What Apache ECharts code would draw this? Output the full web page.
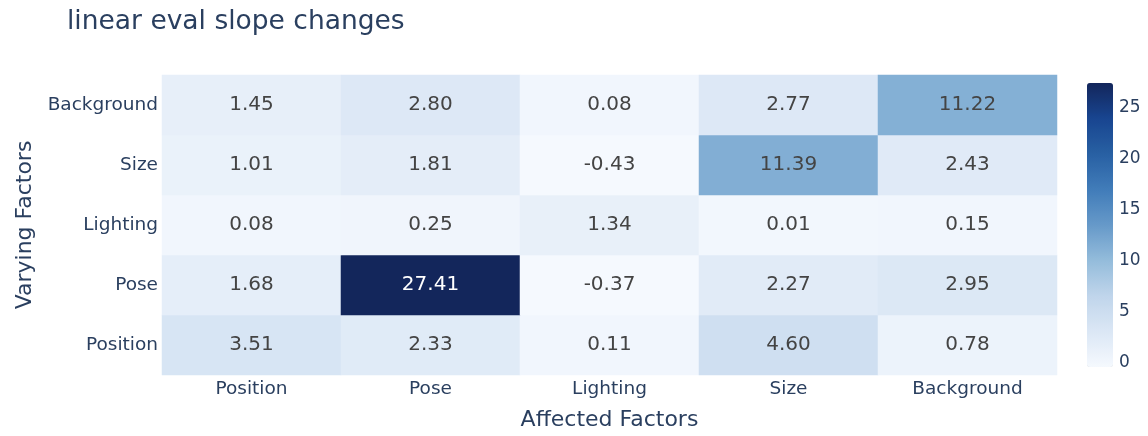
<!DOCTYPE html>
<html>
<head>
<meta charset="utf-8">
<script src="https://cdn.jsdelivr.net/npm/echarts@6/dist/echarts.min.js"></script>
<style>
  html, body { margin: 0; padding: 0; background: #fff; }
  #chart { width: 1148px; height: 436px; }
</style>
</head>
<body>
<div id="chart"></div>
<script>
const affected = ['Position', 'Pose', 'Lighting', 'Size', 'Background'];
const varying = ['Position', 'Pose', 'Lighting', 'Size', 'Background'];

// one array per varying factor, values in order of affected factors
const rowPosition = [3.51, 2.33, 0.11, 4.60, 0.78];
const rowPose = [1.68, 27.41, -0.37, 2.27, 2.95];
const rowLighting = [0.08, 0.25, 1.34, 0.01, 0.15];
const rowSize = [1.01, 1.81, -0.43, 11.39, 2.43];
const rowBackground = [1.45, 2.80, 0.08, 2.77, 11.22];

const colorTicks = [0, 5, 10, 15, 20, 25];

const rows = [rowPosition, rowPose, rowLighting, rowSize, rowBackground];
const all = rows.flat();
const zmin = Math.min(...all);
const zmax = Math.max(...all);

const heatData = [];
rows.forEach((row, yi) => {
  row.forEach((v, xi) => {
    heatData.push({
      value: [xi, yi, v],
      label: { color: v > 15 ? '#ffffff' : '#444444' },
    });
  });
});

const font = 'Verdana, "DejaVu Sans", sans-serif';
const textColor = '#2a3f5f';

// colorbar geometry
const cbTop = 83;
const cbLen = 284;
const zeroOffset = (0 - zmin) / (zmax - zmin) * cbLen;

const myChart = echarts.init(document.getElementById('chart'));

const option = {
  animation: false,
  title: {
    text: 'linear eval slope changes',
    left: 62,
    top: 4,
    textStyle: { fontFamily: font, fontSize: 26.5, fontWeight: 'normal', color: textColor },
  },
  grid: [
    { left: 162, right: 91, top: 75, bottom: 61, outerBoundsMode: 'none', containLabel: false },
    { left: 1087, width: 26, top: cbTop, height: cbLen - zeroOffset, outerBoundsMode: 'none', containLabel: false },
  ],
  xAxis: [
    {
      type: 'category',
      data: affected,
      gridIndex: 0,
      name: 'Affected Factors',
      nameLocation: 'middle',
      nameGap: 34,
      nameTextStyle: { fontFamily: font, fontSize: 22, color: textColor },
      axisLine: { show: false },
      axisTick: { show: false },
      axisLabel: { fontFamily: font, fontSize: 18.5, color: textColor, margin: 5 },
      splitLine: { show: false },
    },
    {
      type: 'value',
      gridIndex: 1,
      show: false,
      min: 0,
      max: 1,
    },
  ],
  yAxis: [
    {
      type: 'category',
      data: varying,
      gridIndex: 0,
      name: 'Varying Factors',
      nameLocation: 'middle',
      nameGap: 119,
      nameRotate: 90,
      nameTextStyle: { fontFamily: font, fontSize: 22, color: textColor },
      axisLine: { show: false },
      axisTick: { show: false },
      axisLabel: { fontFamily: font, fontSize: 18.5, color: textColor, margin: 4 },
      splitLine: { show: false },
    },
    {
      type: 'value',
      gridIndex: 1,
      position: 'right',
      min: 0,
      max: zmax,
      interval: 5,
      axisLine: { show: false },
      axisTick: { show: false },
      splitLine: { show: false },
      axisLabel: {
        fontFamily: font,
        fontSize: 17,
        color: textColor,
        margin: 6,
        customValues: colorTicks,
      },
    },
  ],
  visualMap: {
    type: 'continuous',
    seriesIndex: 0,
    min: zmin,
    max: zmax,
    calculable: false,
    orient: 'vertical',
    left: 1087,
    top: cbTop,
    itemWidth: 26,
    itemHeight: cbLen,
    padding: 0,
    text: ['', ''],
    showLabel: false,
    inRange: {
      color: ['#f5f9fe', '#dbe7f5', '#c0d5eb', '#94bcdb', '#6699c9', '#417cb9', '#2860a3', '#184590', '#13265b'],
    },
  },
  series: [
    {
      type: 'heatmap',
      xAxisIndex: 0,
      yAxisIndex: 0,
      data: heatData,
      label: {
        show: true,
        fontFamily: font,
        fontSize: 20,
        formatter: (p) => p.value[2].toFixed(2),
      },
      itemStyle: { borderWidth: 0 },
      emphasis: { disabled: true },
    },
    {
      type: 'scatter',
      xAxisIndex: 1,
      yAxisIndex: 1,
      data: [],
    },
  ],
};

myChart.setOption(option);
</script>
</body>
</html>
